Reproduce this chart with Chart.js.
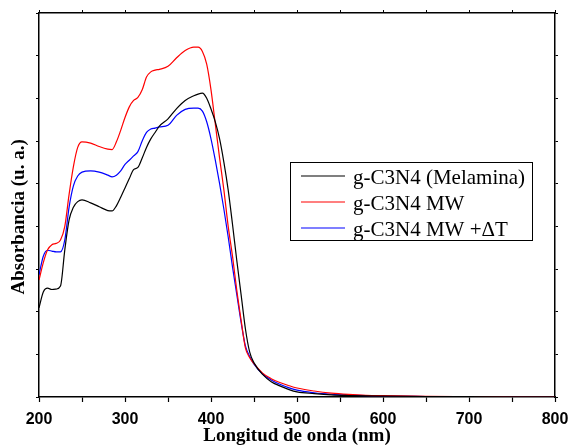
<!DOCTYPE html>
<html>
<head>
<title>g-C3N4 UV-Vis</title>
<script src="https://cdn.jsdelivr.net/npm/chart.js"></script>
<style>
  body { margin: 0; background: #fff; }
  #chartContainer { width: 571px; height: 447px; position: relative; }
</style>
</head>
<body>
  <div id="chartContainer">
    <canvas id="absChart"></canvas>
  </div>

  <script>
    // Wavelength grid (nm)
    const wavelength = [200, 205, 210, 215, 220, 225, 230, 235, 240, 245, 250, 260, 270, 280, 285, 290, 295, 300,
      305, 310, 315, 320, 325, 330, 335, 340, 350, 360, 370, 380, 385, 390, 395, 400, 405, 410, 415, 420, 425,
      430, 435, 440, 445, 450, 460, 470, 480, 490, 500, 520, 540, 560, 580, 600, 650, 700, 750, 800];

    const melamina = [2.09, 2.46, 2.55, 2.52, 2.53, 2.6, 3.45, 4.15, 4.45, 4.58, 4.62, 4.55, 4.46, 4.37, 4.36, 4.48, 4.68, 4.9,
      5.12, 5.33, 5.38, 5.6, 5.85, 6.05, 6.2, 6.35, 6.52, 6.76, 6.95, 7.06, 7.1, 7.12, 7.0, 6.75, 6.45, 6.05, 5.5, 4.85, 4.05,
      3.2, 2.4, 1.6, 1.05, 0.8, 0.53, 0.36, 0.26, 0.18, 0.12, 0.08, 0.05, 0.035, 0.025, 0.02, 0.012, 0.008, 0.005, 0.003];

    const mw = [2.74, 3.15, 3.45, 3.57, 3.6, 3.68, 4.0, 4.75, 5.4, 5.85, 5.98, 5.95, 5.87, 5.81, 5.8, 5.98, 6.25, 6.55,
      6.8, 6.95, 7.02, 7.2, 7.5, 7.62, 7.66, 7.68, 7.75, 7.95, 8.12, 8.2, 8.2, 8.1, 7.8, 7.2, 6.4, 5.6, 4.85, 4.0, 3.3,
      2.5, 1.8, 1.15, 0.92, 0.78, 0.56, 0.43, 0.34, 0.27, 0.21, 0.14, 0.09, 0.06, 0.04, 0.03, 0.015, 0.01, 0.006, 0.004];

    const mwDeltaT = [2.86, 3.3, 3.44, 3.42, 3.4, 3.4, 3.68, 4.45, 4.95, 5.18, 5.27, 5.3, 5.27, 5.2, 5.16, 5.2, 5.3, 5.45,
      5.55, 5.65, 5.75, 6.0, 6.2, 6.28, 6.3, 6.33, 6.37, 6.6, 6.74, 6.77, 6.77, 6.7, 6.45, 6.05, 5.55, 5.0, 4.4, 3.75, 3.05,
      2.4, 1.75, 1.2, 0.95, 0.77, 0.54, 0.4, 0.3, 0.22, 0.16, 0.1, 0.065, 0.045, 0.03, 0.02, 0.012, 0.008, 0.005, 0.003];

    const seriesLabels = ["g-C3N4 (Melamina)", "g-C3N4 MW", "g-C3N4 MW +\u0394T"];
    const seriesColors = ["#000000", "#ff0000", "#0000ff"];
    const seriesValues = [melamina, mw, mwDeltaT];

    const toPoints = (vals) => wavelength.map((w, i) => ({ x: w, y: vals[i] }));

    // legend box drawn inside the plot, like the original
    const boxLegend = {
      id: 'boxLegend',
      afterDraw(chart) {
        const c = chart.ctx;
        const x0 = 290, y0 = 162, w = 242, h = 78;
        c.save();
        c.fillStyle = '#fff';
        c.fillRect(x0, y0, w, h);
        c.strokeStyle = '#000';
        c.lineWidth = 1;
        c.strokeRect(x0 + 0.5, y0 + 0.5, w, h);
        c.font = '21px "Liberation Serif", "Times New Roman", serif';
        c.textBaseline = 'middle';
        chart.data.datasets.forEach((ds, i) => {
          const yy = y0 + 14 + i * 26;
          c.strokeStyle = ds.borderColor;
          c.lineWidth = 1.2;
          c.beginPath();
          c.moveTo(x0 + 11, yy);
          c.lineTo(x0 + 55, yy);
          c.stroke();
          c.fillStyle = '#000';
          c.fillText(ds.label, x0 + 63, yy + 2);
        });
        c.restore();
      }
    };

    const titleFont = { family: '"Liberation Serif", "Times New Roman", serif', size: 19, weight: 'bold' };

    const ctx = document.getElementById("absChart").getContext("2d");
    const absChart = new Chart(ctx, {
      type: 'line',
      data: {
        datasets: seriesLabels.map((lab, i) => ({
          label: lab,
          data: toPoints(seriesValues[i]),
          borderColor: seriesColors[i],
          borderWidth: 1.2,
          pointRadius: 0,
          fill: false,
          cubicInterpolationMode: 'monotone'
        }))
      },
      options: {
        responsive: true,
        maintainAspectRatio: false,
        animation: false,
        layout: { padding: 0 },
        plugins: {
          legend: { display: false },
          tooltip: { enabled: false }
        },
        scales: {
          x: {
            type: 'linear',
            position: 'bottom',
            min: 200,
            max: 800,
            afterFit: (s) => {
              s.height = 50;
              // keep the end labels from squeezing the plot
              s.paddingLeft = 14;
              s.paddingRight = 14;
            },
            ticks: {
              stepSize: 50,
              autoSkip: false,
              maxRotation: 0,
              padding: 8,
              color: '#000',
              font: { family: '"Liberation Sans", Arial, sans-serif', size: 16, weight: 'bold' },
              callback: (v) => (v % 100 === 0 ? v : '')
            },
            title: {
              display: true,
              text: 'Longitud de onda (nm)',
              color: '#000',
              padding: { top: 0, bottom: 0 },
              font: titleFont
            },
            grid: { drawOnChartArea: false, drawTicks: true, tickLength: 5, color: '#000', tickWidth: 1.2 },
            border: { display: true, color: '#000', width: 1.5 }
          },
          xTop: {
            type: 'linear',
            position: 'top',
            min: 200,
            max: 800,
            afterFit: (s) => { s.height = 13; },
            ticks: { display: false, stepSize: 50 },
            grid: { drawOnChartArea: false, drawTicks: true, tickLength: 3, color: '#000' },
            border: { display: true, color: '#000', width: 1.5 }
          },
          y: {
            type: 'linear',
            position: 'left',
            min: 0,
            max: 9,
            afterFit: (s) => { s.width = 39; },
            ticks: { display: false, stepSize: 1 },
            title: {
              display: true,
              // trailing spaces nudge the rotated title down a bit, as in the original
              text: 'Absorbancia (u. a.)\u00a0\u00a0\u00a0\u00a0\u00a0',
              color: '#000',
              padding: { top: 8, bottom: 0 },
              font: titleFont
            },
            grid: { drawOnChartArea: false, drawTicks: true, tickLength: 3, color: '#000' },
            border: { display: true, color: '#000', width: 1.5 }
          },
          yRight: {
            type: 'linear',
            position: 'right',
            min: 0,
            max: 9,
            afterFit: (s) => { s.width = 16; },
            ticks: { display: false, stepSize: 1 },
            grid: { drawOnChartArea: false, drawTicks: true, tickLength: 3, color: '#000' },
            border: { display: true, color: '#000', width: 1.5 }
          }
        }
      },
      plugins: [boxLegend]
    });
  </script>
</body>
</html>
